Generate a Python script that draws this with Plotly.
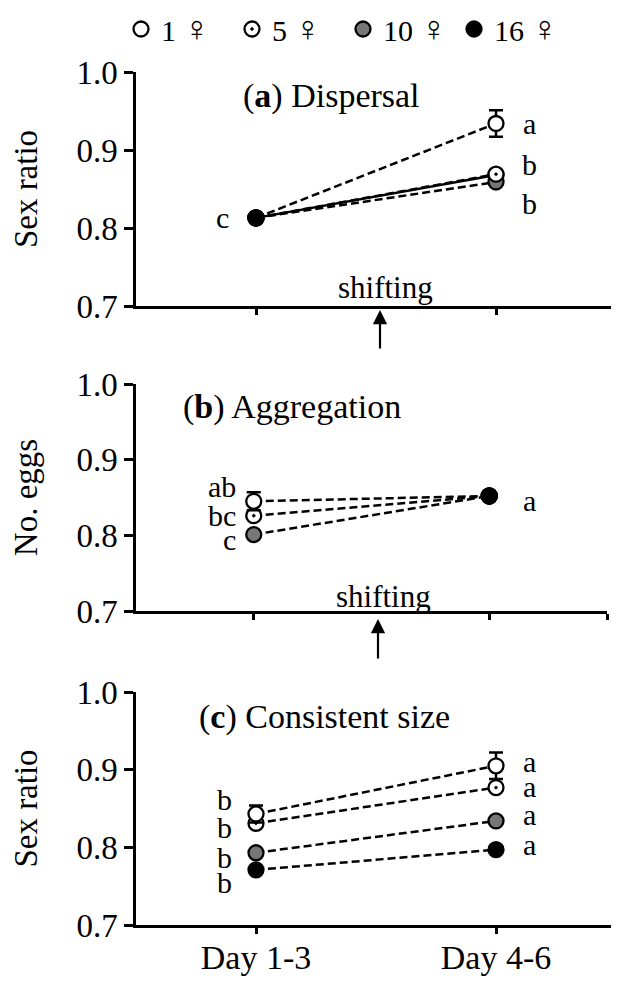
import plotly.graph_objects as go

# ---------------- data ----------------
days = ["Day 1-3", "Day 4-6"]
groups = ["1 ♀", "5 ♀", "10 ♀", "16 ♀"]

# (a) Dispersal
a_1 = [0.813, 0.934]
a_1_err = [None, 0.017]
a_5 = [0.813, 0.869]
a_10 = [0.813, 0.859]
a_16 = [0.813, 0.868]

# (b) Aggregation
b_1 = [0.845, 0.852]
b_1_err = [0.012, None]
b_5 = [0.826, 0.852]
b_10 = [0.801, 0.852]
b_16 = [None, 0.852]

# (c) Consistent size
c_1 = [0.843, 0.905]
c_1_err = [0.011, 0.017]
c_5 = [0.831, 0.877]
c_10 = [0.793, 0.834]
c_16 = [0.771, 0.797]

# significance letters
a_letters_d1 = ["c"]
a_letters_d2 = ["a", "b", "b"]
b_letters_d1 = ["ab", "bc", "c"]
b_letters_d2 = ["a"]
c_letters_d1 = ["b", "b", "b", "b"]
c_letters_d2 = ["a", "a", "a", "a"]

yticks = [0.7, 0.8, 0.9, 1.0]

# ---------------- layout helpers ----------------
OFF = 8                      # page body margin of the html page
W, H = 619 - OFF, 985 - OFF
L, R = 136 - OFF, 3
T = 72 - OFF
B = H - (925 - OFF)
FONT = "Liberation Serif"


def px_x(px):
    """reference-picture x pixel -> paper coordinate"""
    return (px - OFF - L) / (W - L - R)


def px_y(py):
    """reference-picture y pixel -> paper coordinate"""
    return (H - B - (py - OFF)) / (H - T - B)


xnum = [i + 1 for i in range(len(days))]

styles = {
    "1 ♀": dict(symbol="circle", color="white"),
    "5 ♀": dict(symbol="circle-dot", color="white"),
    "10 ♀": dict(symbol="circle", color="#777777"),
    "16 ♀": dict(symbol="circle", color="black"),
}

fig = go.Figure()


def add_series(name, y, axis, dash="8px,4px", err=None):
    st = styles[name]
    tr = go.Scatter(
        x=xnum, y=y, mode="lines+markers", name=name, showlegend=False,
        xaxis="x" + axis, yaxis="y" + axis,
        line=dict(color="black", width=2.5, dash=dash),
        marker=dict(symbol=st["symbol"], size=15, color=st["color"],
                    line=dict(color="black", width=2.3)),
        connectgaps=False,
    )
    if err is not None:
        tr.error_y = dict(type="data", array=err, visible=True, color="black",
                          thickness=2.5, width=7)
    fig.add_trace(tr)


# panel (a)
add_series("16 ♀", a_16, "", dash="solid")
add_series("10 ♀", a_10, "")
add_series("5 ♀", a_5, "")
add_series("1 ♀", a_1, "", err=a_1_err)
# pooled day 1-3 point drawn on top
fig.add_trace(go.Scatter(
    x=xnum[:1], y=a_16[:1], mode="markers", showlegend=False, xaxis="x", yaxis="y",
    marker=dict(symbol="circle", size=15, color="black", line=dict(color="black", width=2.3))))

# panel (b)
add_series("10 ♀", b_10, "2")
add_series("5 ♀", b_5, "2")
add_series("1 ♀", b_1, "2", err=b_1_err)
add_series("16 ♀", b_16, "2")

# panel (c)
add_series("16 ♀", c_16, "3")
add_series("10 ♀", c_10, "3")
add_series("5 ♀", c_5, "3")
add_series("1 ♀", c_1, "3", err=c_1_err)

# legend-only entries (female sign drawn larger, as in the reference)
for g in groups:
    st = styles[g]
    num, sign = g.split(" ")
    fig.add_trace(go.Scatter(
        x=[None], y=[None], mode="markers",
        name=f"{num} <span style='font-size:36px'>{sign}</span>", showlegend=True,
        xaxis="x3", yaxis="y3",
        marker=dict(symbol=st["symbol"], size=15, color=st["color"],
                    line=dict(color="black", width=2.3))))

# ---------------- axes ----------------
tickfont = dict(family=FONT, size=33, color="black")


def xaxis(dom_end, labels):
    return dict(
        domain=[0, dom_end], range=[0.5, 2.5], tickmode="array",
        tickvals=xnum + [2.5], ticktext=labels + [""],
        showline=True, linecolor="black", linewidth=2.5,
        ticks="outside", ticklen=6, tickwidth=2.5, tickcolor="black",
        showgrid=False, zeroline=False, tickfont=dict(family=FONT, size=34, color="black"),
        fixedrange=True, ticklabelstandoff=-6,
    )


def yaxis(dom, title, anchor):
    return dict(
        domain=dom, range=[0.7, 1.0], tickmode="array", tickvals=yticks,
        ticktext=[f"{v:.1f}" for v in yticks], anchor=anchor,
        showline=True, linecolor="black", linewidth=2.5,
        ticks="outside", ticklen=9, tickwidth=2.5, tickcolor="black",
        showgrid=False, zeroline=False, tickfont=tickfont,
        title=dict(text=title, font=dict(family=FONT, size=33, color="black"), standoff=40),
    )


fig.update_layout(
    width=W, height=H,
    margin=dict(l=L, r=R, t=T, b=B, autoexpand=False),
    paper_bgcolor="white", plot_bgcolor="white",
    font=dict(family=FONT, color="black"),
    xaxis=xaxis(1.0, ["", ""]) | dict(anchor="y"),
    xaxis2=xaxis(px_x(607), ["", ""]) | dict(anchor="y2"),
    xaxis3=xaxis(1.0, days) | dict(anchor="y3"),
    yaxis=yaxis([px_y(306), px_y(72)], "Sex ratio", "x"),
    yaxis2=yaxis([px_y(611), px_y(384)], "No. eggs", "x2"),
    yaxis3=yaxis([px_y(925), px_y(692)], "Sex ratio", "x3"),
    legend=dict(orientation="h", x=px_x(121), y=px_y(29), xanchor="left", yanchor="middle",
                font=dict(family=FONT, size=30, color="black"),
                itemwidth=30, entrywidth=66, entrywidthmode="pixels",
                bgcolor="rgba(0,0,0,0)", tracegroupgap=0),
    showlegend=True,
)

ann = []
lfont = dict(family=FONT, size=30, color="black")


def letter(text, x, y, axis, xanchor="center"):
    ann.append(dict(text=text, x=x, y=y, xref="x" + axis, yref="y" + axis,
                    showarrow=False, font=lfont, xanchor=xanchor, yanchor="middle"))


# panel titles
tfont = dict(family=FONT, size=34, color="black")
for txt, xpx, ypx in [("(<b>a</b>) Dispersal", 331, 96),
                      ("(<b>b</b>) Aggregation", 292, 407),
                      ("(<b>c</b>) Consistent size", 324, 717)]:
    ann.append(dict(text=txt, x=px_x(xpx), y=px_y(ypx), xref="paper", yref="paper",
                    showarrow=False, font=tfont, xanchor="center", yanchor="middle"))

# shifting notes + arrows
for xpx, ypx, tip, tail in [(385, 287, 310, 350), (383, 596, 619, 660)]:
    ann.append(dict(text="shifting", x=px_x(xpx), y=px_y(ypx), xref="paper", yref="paper",
                    showarrow=False, font=dict(family=FONT, size=31, color="black"),
                    xanchor="center", yanchor="middle"))
    ann.append(dict(text="", x=px_x(xpx - 5), y=px_y(tip), xref="paper", yref="paper",
                    ax=0, ay=tail - tip, showarrow=True, arrowhead=2, arrowsize=1.3,
                    arrowwidth=2.2, arrowcolor="black"))

# letters panel (a)
letter(a_letters_d1[0], 0.86, a_16[0], "")
for t, y in zip(a_letters_d2, [a_1[1], a_5[1] + 0.012, a_10[1] - 0.027]):
    letter(t, 2.14, y, "")

# letters panel (b)
for t, y in zip(b_letters_d1, [b_1[0] + 0.02, b_5[0], b_10[0] - 0.006]):
    letter(t, 0.935, y, "2", xanchor="right")
letter(b_letters_d2[0], 2.17, b_16[1] - 0.006, "2")

# letters panel (c)
for t, y in zip(c_letters_d1, [c_1[0] + 0.018, c_5[0] - 0.005, c_10[0] - 0.006, c_16[0] - 0.016]):
    letter(t, 0.87, y, "3")
for t, y in zip(c_letters_d2, [c_1[1] + 0.005, c_5[1] + 0.001, c_10[1] + 0.008, c_16[1] + 0.007]):
    letter(t, 2.14, y, "3")

fig.update_layout(annotations=ann)

fig.write_html("out.html")
